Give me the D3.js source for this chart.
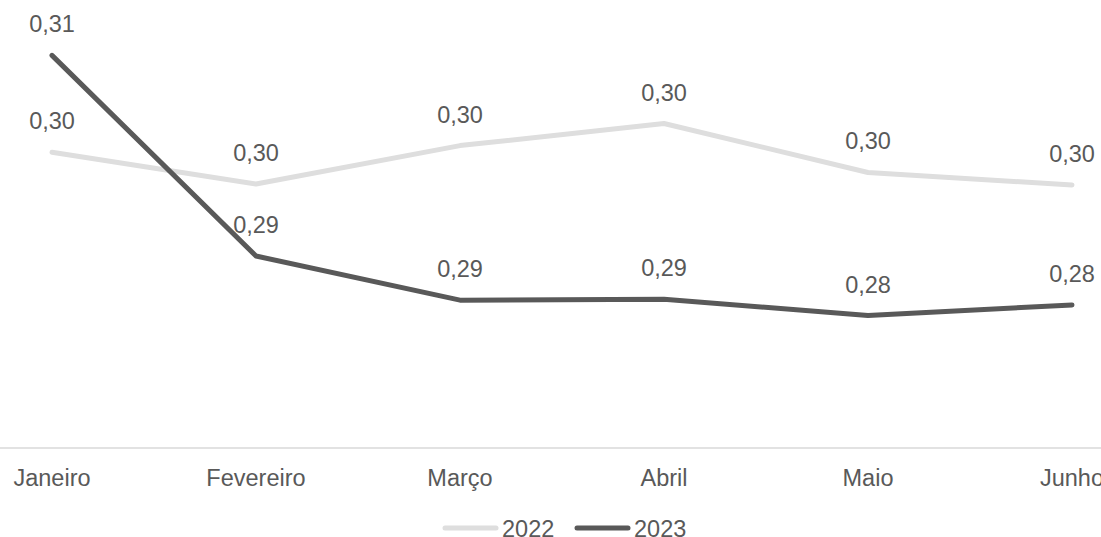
<!DOCTYPE html>
<html>
<head>
<meta charset="utf-8">
<script src="https://cdn.jsdelivr.net/npm/d3@7/dist/d3.min.js"></script>
<style>
html,body{margin:0;padding:0;background:#fff;overflow:hidden;}
svg{display:block;font-family:"Liberation Sans",Arial,sans-serif;}
</style>
</head>
<body>
<svg id="chart" width="1101" height="537"></svg>
<script>
const months = ["Janeiro","Fevereiro","Março","Abril","Maio","Junho"];
const values2022 = [0.3008, 0.2975, 0.3015, 0.3038, 0.2987, 0.2974];
const values2023 = [0.3109, 0.2900, 0.2854, 0.2855, 0.2838, 0.2849];
const seriesNames = ["2022","2023"];
const seriesColors = ["#dedede","#595959"];

const svg = d3.select("#chart");
const x = d3.scalePoint().domain(months).range([52, 1072]);
const y = d3.scaleLinear().domain([0.27, 0.315]).range([448, 16]);
const step = x.step();
const fmt = v => d3.format(".2f")(v).replace(".", ",");

// axis baseline
svg.append("line")
  .attr("x1", x(months[0]) - step/2).attr("x2", x(months[months.length-1]) + step/2)
  .attr("y1", y(0.27)).attr("y2", y(0.27))
  .attr("stroke", "#d9d9d9").attr("stroke-width", 1.5);

// category labels
svg.append("g").selectAll("text").data(months).join("text")
  .attr("x", d => x(d)).attr("y", 486)
  .attr("text-anchor", "middle")
  .attr("font-size", "23.5px").attr("fill", "#595959")
  .text(d => d);

const series = [values2022, values2023];
const line = d3.line().x((d,i) => x(months[i])).y(d => y(d));

series.forEach((vals, si) => {
  svg.append("path").datum(vals)
    .attr("d", line)
    .attr("fill", "none")
    .attr("stroke", seriesColors[si])
    .attr("stroke-width", 5)
    .attr("stroke-linejoin", "round")
    .attr("stroke-linecap", "round");
});

series.forEach((vals, si) => {
  svg.append("g").selectAll("text").data(vals).join("text")
    .attr("x", (d,i) => x(months[i])).attr("y", d => y(d) - 23)
    .attr("text-anchor", "middle")
    .attr("font-size", "23.5px").attr("fill", "#595959")
    .text(d => fmt(d));
});

// legend
const legendX = [443, 575];
seriesNames.forEach((n, i) => {
  svg.append("line")
    .attr("x1", legendX[i] + 2).attr("x2", legendX[i] + 53)
    .attr("y1", 528).attr("y2", 528)
    .attr("stroke", seriesColors[i]).attr("stroke-width", 5)
    .attr("stroke-linecap", "round");
  svg.append("text")
    .attr("x", legendX[i] + 59).attr("y", 537)
    .attr("font-size", "23.5px").attr("fill", "#595959")
    .text(n);
});
</script>
</body>
</html>
